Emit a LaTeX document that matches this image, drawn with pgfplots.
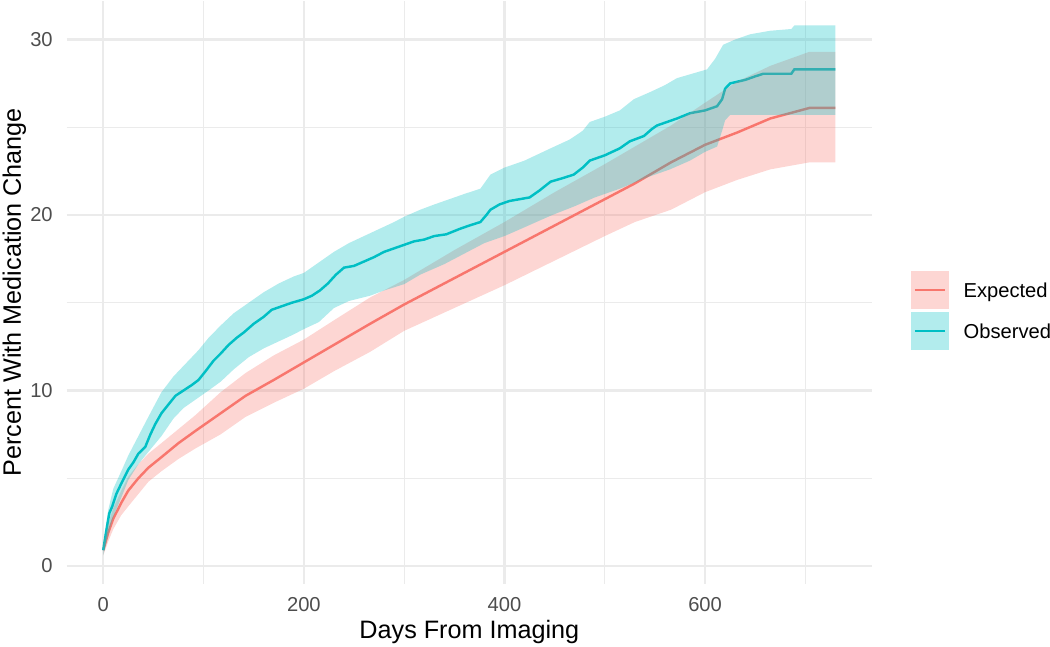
\documentclass[border=0pt]{standalone}
\usepackage{pgfplots}
\usepackage{pgfplotstable}
\pgfplotsset{compat=1.18}
\usepgfplotslibrary{fillbetween}
\usepackage{fontspec}
\setmainfont{Liberation Sans}
\definecolor{exline}{HTML}{F8766D}
\definecolor{obline}{HTML}{00BFC4}
\definecolor{ggrid}{HTML}{EBEBEB}
\definecolor{tgrey}{HTML}{4D4D4D}

\pgfplotstableread{
d lo mid hi
0 0.6 0.9 1.2
5 1.4 1.9 2.4
10 2.1 2.7 3.3
18 2.9 3.6 4.3
25 3.4 4.3 5.1
35 4.1 5.0 5.8
45 4.8 5.6 6.4
58 5.4 6.2 7.0
75 6.1 7.0 7.8
92 6.7 7.7 8.6
117 7.5 8.7 9.9
142 8.5 9.7 11.0
170 9.3 10.6 12.0
200 10.1 11.6 12.9
230 11.1 12.6 14.0
266 12.2 13.8 15.3
300 13.4 14.9 16.3
350 14.7 16.4 18.0
400 16.0 17.9 19.6
450 17.4 19.4 21.3
500 18.8 20.9 22.9
530 19.6 21.8 23.9
566 20.3 23.0 25.1
600 21.3 24.0 26.4
632 22.0 24.7 27.6
665 22.6 25.5 28.5
704 23.0 26.1 29.3
730 23.0 26.1 29.3
}\expected

\pgfplotstableread{
d v
0 0.9
3 2.0
6 3.0
9 3.4
13 4.1
18 4.7
25 5.5
30 5.9
35 6.4
42 6.8
47 7.5
52 8.1
58 8.7
65 9.2
72 9.7
80 10.0
88 10.3
95 10.6
102 11.1
110 11.7
117 12.1
125 12.6
133 13.0
140 13.3
150 13.8
160 14.2
168 14.6
178 14.8
188 15.0
200 15.2
208 15.4
216 15.7
224 16.1
232 16.6
240 17.0
250 17.1
262 17.4
270 17.6
280 17.9
290 18.1
300 18.3
310 18.5
320 18.6
330 18.8
342 18.9
355 19.2
365 19.4
376 19.6
382 20.0
386 20.3
395 20.6
405 20.8
415 20.9
425 21.0
435 21.4
446 21.9
458 22.1
469 22.3
478 22.7
485 23.1
500 23.4
515 23.8
525 24.2
539 24.5
547 24.9
552 25.1
562 25.3
572 25.5
585 25.8
600 25.96
612 26.2
617 26.6
620 27.2
625 27.5
640 27.7
650 27.9
658 28.05
686 28.05
689 28.3
730 28.3
}\obsmid

\pgfplotstableread{
d v
0 1.2
5 3.2
10 4.4
18 5.4
25 6.3
35 7.4
45 8.5
58 9.9
70 10.8
80 11.4
95 12.3
105 13.0
117 13.7
130 14.4
145 15.0
160 15.6
175 16.1
190 16.5
200 16.7
215 17.3
230 17.9
245 18.4
260 18.8
275 19.2
290 19.6
300 19.9
316 20.3
330 20.6
345 20.9
360 21.2
376 21.5
386 22.3
400 22.7
420 23.1
446 23.8
465 24.3
478 24.8
485 25.3
500 25.6
515 25.96
529 26.6
545 27.0
560 27.4
572 27.8
590 28.1
602 28.3
610 28.9
618 29.7
630 30.0
645 30.3
665 30.5
686 30.6
689 30.8
730 30.8
}\obshi

\pgfplotstableread{
d v
0 0.6
5 1.8
10 2.8
18 3.9
25 4.9
35 5.8
45 6.5
58 7.4
70 8.4
80 9.0
95 9.6
105 10.0
117 10.5
130 11.2
145 11.9
160 12.4
175 12.8
190 13.2
200 13.5
215 13.9
230 14.7
245 15.1
266 15.4
280 15.7
300 16.06
316 16.6
340 17.2
360 17.8
380 18.4
400 18.8
420 19.3
446 19.96
470 20.5
490 21.0
515 21.5
540 22.1
565 22.6
585 23.1
600 23.6
612 23.9
617 24.8
620 25.4
625 25.7
730 25.7
}\obslo

\begin{document}
\begin{tikzpicture}
\begin{axis}[
  set layers,
  name=ax, at={(0,0)}, anchor=south west,
  scale only axis, width=351.7pt, height=254.4pt,
  xmin=-36.5, xmax=766.5, ymin=-1.0, ymax=32.2,
  xtick={0,200,400,600}, ytick={0,10,20,30},
  minor xtick={100,300,500,700}, minor ytick={5,15,25},
  grid=both,
  major grid style={draw=ggrid, line width=1.07pt},
  minor grid style={draw=ggrid, line width=0.53pt},
  axis line style={draw=none},
  major tick length=0pt, minor tick length=0pt,
  tick style={draw=none},
  /pgf/number format/assume math mode=true,
  ticklabel style={font=\fontsize{8.8}{10}\selectfont, text=tgrey},
  xticklabel style={anchor=north, inner sep=0pt, yshift=-5.9pt},
  yticklabel style={anchor=east, inner sep=0pt, xshift=-5.9pt},
  xlabel={Days From Imaging}, ylabel={Percent With Medication Change},
  label style={font=\fontsize{11}{13}\selectfont},
  xlabel style={at={(axis description cs:0.5,-0.0951)}, anchor=base, inner sep=0pt},
  ylabel style={at={(axis description cs:-0.0569,0.5)}, anchor=base, inner sep=0pt},
  legend style={draw=none, fill=none, inner sep=0pt, outer sep=0pt,
    at={(axis description cs:1.048,0.469)}, anchor=west,
    row sep=1.2pt, column sep=6.3pt,
    nodes={inner sep=0pt, text depth=0pt, font=\fontsize{8.8}{10}\selectfont}},
  legend cell align=left,
]
\addplot[exline, line width=1.07pt, forget plot, on layer=axis lines] table[x=d,y=mid]{\expected};
\addplot[obline, line width=1.07pt, forget plot, on layer=axis lines] table[x=d,y=v]{\obsmid};
\addplot[draw=none, name path=eh, forget plot] table[x=d,y=hi]{\expected};
\addplot[draw=none, name path=el, forget plot] table[x=d,y=lo]{\expected};
\addplot[fill=exline, fill opacity=0.3, draw=none, forget plot] fill between[of=eh and el];
\addplot[draw=none, name path=oh, forget plot] table[x=d,y=v]{\obshi};
\addplot[draw=none, name path=ol, forget plot] table[x=d,y=v]{\obslo};
\addplot[fill=obline, fill opacity=0.3, draw=none, forget plot] fill between[of=oh and ol];
\addlegendimage{legend image code/.code={\fill[exline!30] (0pt,-8.15pt) rectangle (16.4pt,8.15pt); \draw[exline, line width=1.07pt] (1.6pt,0pt) -- (14.8pt,0pt);}}
\addlegendentry{Expected}
\addlegendimage{legend image code/.code={\fill[obline!30] (0pt,-8.15pt) rectangle (16.4pt,8.15pt); \draw[obline, line width=1.07pt] (1.6pt,0pt) -- (14.8pt,0pt);}}
\addlegendentry{Observed}
\end{axis}
\pgfresetboundingbox
\useasboundingbox (-29.1pt,-27.3pt) rectangle (429.4pt,254.8pt);
\end{tikzpicture}
\end{document}
